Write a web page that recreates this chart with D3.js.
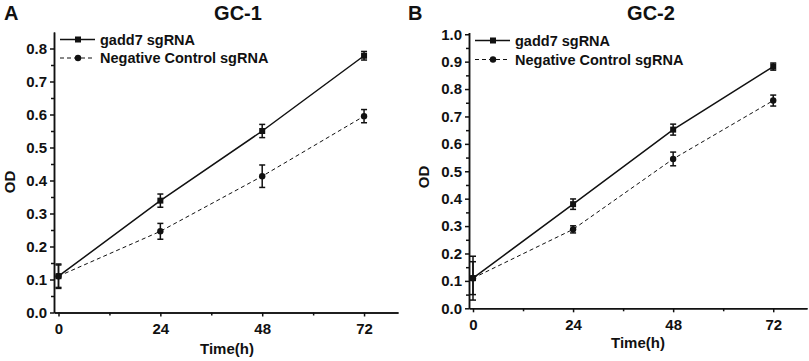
<!DOCTYPE html>
<html>
<head>
<meta charset="utf-8">
<script src="https://cdn.jsdelivr.net/npm/d3@7"></script>
<style>
  body { margin: 0; background: #fff; }
  svg { display: block; font-family: 'Liberation Sans', Arial, sans-serif; font-weight: bold; }
</style>
</head>
<body>
<svg width="809" height="361"></svg>
<script>
let hours = [0, 24, 48, 72]
let seriesNames = ['gadd7 sgRNA', 'Negative Control sgRNA']

// GC-1
let gc1Gadd7 = [0.11, 0.339, 0.55, 0.778]
let gc1Gadd7Err = [0.037, 0.02, 0.02, 0.013]
let gc1Control = [0.11, 0.246, 0.413, 0.595]
let gc1ControlErr = [0.034, 0.024, 0.034, 0.02]
let gc1YTicks = [0, 0.1, 0.2, 0.3, 0.4, 0.5, 0.6, 0.7, 0.8]

// GC-2
let gc2Gadd7 = [0.11, 0.38, 0.652, 0.882]
let gc2Gadd7Err = [0.06, 0.019, 0.02, 0.013]
let gc2Control = [0.11, 0.288, 0.545, 0.758]
let gc2ControlErr = [0.08, 0.013, 0.025, 0.02]
let gc2YTicks = [0, 0.1, 0.2, 0.3, 0.4, 0.5, 0.6, 0.7, 0.8, 0.9, 1.0]

let xMinor = [12, 36, 60]

let svg = d3.select('svg')

function drawPanel(p) {
  let g = svg.append('g')

  let xScale = d3.scaleLinear()
    .domain(p.xDomain)
    .range(p.xRange)
  let yScale = d3.scaleLinear()
    .domain(p.yDomain)
    .range(p.yRange)

  let yMinor = d3.range(0.05, p.yDomain[1], 0.1)

  // axes
  let xAxis = d3.axisBottom(xScale).tickValues(hours).tickSize(4).tickPadding(7).tickSizeOuter(0)
  let xAxisMinor = d3.axisBottom(xScale).tickValues(xMinor).tickSize(3).tickFormat('').tickSizeOuter(0)
  let yAxis = d3.axisLeft(yScale).tickValues(p.yTicks).tickSize(4).tickPadding(3)
    .tickFormat(d3.format('.1f')).tickSizeOuter(0)
  let yAxisMinor = d3.axisLeft(yScale).tickValues(yMinor).tickSize(3).tickFormat('').tickSizeOuter(0)

  let y0 = yScale(0)
  let x0 = p.xRange[0]

  ;[xAxis, xAxisMinor].forEach(a => {
    g.append('g')
      .attr('transform', 'translate(' + [0, y0] + ')')
      .call(a)
  })
  ;[yAxis, yAxisMinor].forEach(a => {
    g.append('g')
      .attr('transform', 'translate(' + [x0, 0] + ')')
      .call(a)
  })
  g.selectAll('.domain, .tick line')
    .attr('stroke', '#111')
    .attr('stroke-width', 1.5)
  g.selectAll('.tick text')
    .attr('font-family', "'Liberation Sans', Arial, sans-serif")
    .attr('font-weight', 'bold')
    .attr('font-size', 15)
    .attr('fill', '#111')

  // lines
  let line = d3.line()
    .x(d => xScale(d.h))
    .y(d => yScale(d.v))

  let series = [
    { values: p.gadd7, err: p.gadd7Err, dash: null, width: 1.5, shape: 'square' },
    { values: p.control, err: p.controlErr, dash: '4,3', width: 1, shape: 'circle' }
  ]

  series.forEach(s => {
    let pts = hours.map((h, i) => ({ h: h, v: s.values[i], e: s.err[i] }))

    g.append('path')
      .datum(pts)
      .attr('d', line)
      .attr('fill', 'none')
      .attr('stroke', '#111')
      .attr('stroke-width', s.width)
      .attr('stroke-dasharray', s.dash)

    // error bars
    let eb = g.selectAll(null)
      .data(pts)
      .enter()
      .append('g')
      .attr('stroke', '#111')
      .attr('stroke-width', 1.5)
    eb.append('line')
      .attr('x1', d => xScale(d.h))
      .attr('x2', d => xScale(d.h))
      .attr('y1', d => yScale(d.v - d.e))
      .attr('y2', d => yScale(d.v + d.e))
    eb.append('line')
      .attr('x1', d => xScale(d.h) - 3)
      .attr('x2', d => xScale(d.h) + 3)
      .attr('y1', d => yScale(d.v - d.e))
      .attr('y2', d => yScale(d.v - d.e))
    eb.append('line')
      .attr('x1', d => xScale(d.h) - 3)
      .attr('x2', d => xScale(d.h) + 3)
      .attr('y1', d => yScale(d.v + d.e))
      .attr('y2', d => yScale(d.v + d.e))

    // markers
    if (s.shape == 'square') {
      g.selectAll(null)
        .data(pts)
        .enter()
        .append('rect')
        .attr('x', d => xScale(d.h) - 3)
        .attr('y', d => yScale(d.v) - 3)
        .attr('width', 6)
        .attr('height', 6)
        .attr('fill', '#111')
    } else {
      g.selectAll(null)
        .data(pts)
        .enter()
        .append('circle')
        .attr('cx', d => xScale(d.h))
        .attr('cy', d => yScale(d.v))
        .attr('r', 3.2)
        .attr('fill', '#111')
    }
  })

  // legend
  let lg = g.append('g')
  seriesNames.forEach((name, i) => {
    let ly = p.legend.y + i * p.legend.gap
    let lx = p.legend.x
    lg.append('line')
      .attr('x1', lx)
      .attr('x2', lx + 35)
      .attr('y1', ly)
      .attr('y2', ly)
      .attr('stroke', '#111')
      .attr('stroke-width', series[i].width)
      .attr('stroke-dasharray', series[i].dash)
    if (i == 0) {
      lg.append('rect')
        .attr('x', lx + 15)
        .attr('y', ly - 3)
        .attr('width', 6)
        .attr('height', 6)
        .attr('fill', '#111')
    } else {
      lg.append('circle')
        .attr('cx', lx + 18)
        .attr('cy', ly)
        .attr('r', 3.2)
        .attr('fill', '#111')
    }
    lg.append('text')
      .attr('x', lx + 40)
      .attr('y', ly + 5)
      .attr('font-size', 14.5)
      .attr('fill', '#111')
      .text(name)
  })

  // titles
  g.append('text')
    .attr('x', p.letterX)
    .attr('y', 20)
    .attr('font-size', 20)
    .attr('fill', '#111')
    .text(p.letter)
  g.append('text')
    .attr('x', p.titleX)
    .attr('y', 20)
    .attr('text-anchor', 'middle')
    .attr('font-size', 20)
    .attr('fill', '#111')
    .text(p.title)
  g.append('text')
    .attr('x', p.xLabelX)
    .attr('y', p.xLabelY)
    .attr('text-anchor', 'middle')
    .attr('font-size', 15)
    .attr('fill', '#111')
    .text('Time(h)')
  g.append('text')
    .attr('transform', 'translate(' + [p.yLabelX, p.yLabelY] + ') rotate(-90)')
    .attr('text-anchor', 'middle')
    .attr('font-size', 15)
    .attr('fill', '#111')
    .text('OD')
}

drawPanel({
  letter: 'A', letterX: 4, title: 'GC-1', titleX: 238,
  gadd7: gc1Gadd7, gadd7Err: gc1Gadd7Err, control: gc1Control, controlErr: gc1ControlErr,
  yTicks: gc1YTicks,
  xDomain: [-1.06, 80], xRange: [54, 398],
  yDomain: [0, 0.85], yRange: [312.5, 32],
  legend: { x: 60, y: 39.5, gap: 18.5 },
  xLabelX: 227, xLabelY: 354,
  yLabelX: 15, yLabelY: 182
})

drawPanel({
  letter: 'B', letterX: 408, title: 'GC-2', titleX: 651,
  gadd7: gc2Gadd7, gadd7Err: gc2Gadd7Err, control: gc2Control, controlErr: gc2ControlErr,
  yTicks: gc2YTicks,
  xDomain: [-0.96, 80.1], xRange: [469, 807],
  yDomain: [0, 1.006], yRange: [308.3, 32.6],
  legend: { x: 475, y: 40.5, gap: 19 },
  xLabelX: 638, xLabelY: 348,
  yLabelX: 429, yLabelY: 177
})
</script>
</body>
</html>
